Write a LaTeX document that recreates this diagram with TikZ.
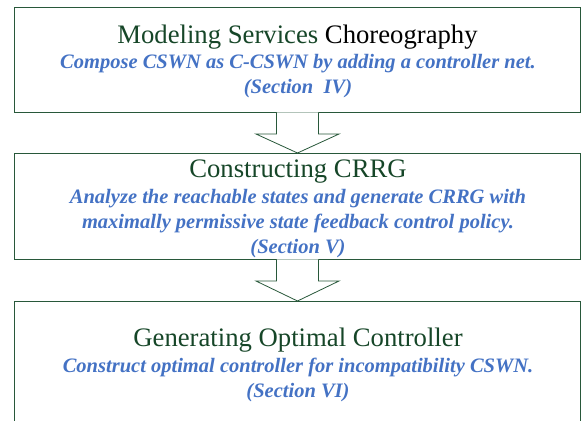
\documentclass[tikz,border=0pt]{standalone}
\usepackage{fontspec}
\setmainfont{Liberation Serif}
\usetikzlibrary{calc}
\definecolor{stagegreen}{RGB}{40,88,58}
\definecolor{titlegreen}{RGB}{22,70,40}
\definecolor{noteblue}{RGB}{68,114,196}

\tikzset{
  stage/.style={draw=stagegreen, line width=1pt, minimum width=566.7pt, inner sep=0pt, anchor=north},
  stagetitle/.style={titlegreen, font=\fontsize{26.7}{30}\selectfont, anchor=base, inner sep=0pt},
  stagenote/.style={noteblue, font=\fontsize{20.5}{25}\selectfont\bfseries\itshape, align=center, anchor=base, inner sep=0pt},
  bigarrow/.style={draw=stagegreen, line width=0.8pt, fill=white, line join=miter}
}

% hollow block arrow from the bottom of one stage to the top of the next
\newcommand{\stagearrow}[2]{%
  \filldraw[bigarrow] ($(#1.south)+(-21,-0.6)$) -- ($(#1.south)+(-21,21)$)
    -- ($(#1.south)+(-41.5,21)$) -- (#2.north) -- ($(#1.south)+(41.5,21)$)
    -- ($(#1.south)+(21,21)$) -- ($(#1.south)+(21,-0.6)$);
}

\begin{document}
\begin{tikzpicture}[x=1pt, y=-1pt]
    \useasboundingbox (0,0) rectangle (582,421);
    \clip (0,0) rectangle (582,421);

    % Stage 1 (base of a note = its last line)
    \node[stage, minimum height=105pt] (model) at (297.5,7) {};
    \node[stagetitle] (modelT) at (297.5,43) {Modeling Services \textcolor{black}{Choreography}};
    \node[stagenote] (modelN) at (298,93) {Compose CSWN as C-CSWN by adding a controller net.\\(Section\ \ IV)};

    % Stage 2
    \node[stage, minimum height=106pt] (crrg) at (297.5,153) {};
    \node[stagetitle] (crrgT) at (298,177) {Constructing CRRG};
    \node[stagenote] (crrgN) at (298,253) {Analyze the reachable states and generate CRRG with\\maximally permissive state feedback control policy.\\(Section V)};

    % Stage 3
    \node[stage, minimum height=140pt] (ctrl) at (297.5,301) {};
    \node[stagetitle] (ctrlT) at (298,346) {Generating Optimal Controller};
    \node[stagenote] (ctrlN) at (298,397) {Construct optimal controller for incompatibility CSWN.\\(Section VI)};

    % Arrows
    \stagearrow{model}{crrg}
    \stagearrow{crrg}{ctrl}
\end{tikzpicture}
\end{document}
